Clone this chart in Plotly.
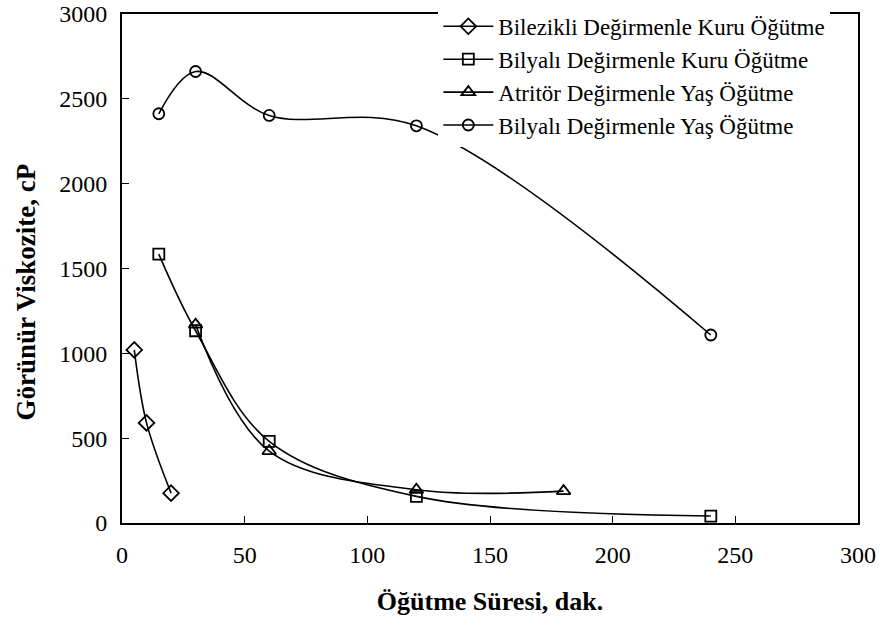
import plotly.graph_objects as go

# Öğütme süresi (dak.) ve görünür viskozite (cP) değerleri
x_bilezikli_kuru = [5, 10, 20]
y_bilezikli_kuru = [1020, 590, 176]

x_bilyali_kuru = [15, 30, 60, 120, 240]
y_bilyali_kuru = [1585, 1133, 481, 157, 41]

x_atritor_yas = [30, 60, 120, 180]
y_atritor_yas = [1169, 424, 196, 188]

x_bilyali_yas = [15, 30, 60, 120, 240]
y_bilyali_yas = [2412, 2661, 2402, 2341, 1108]

FONT = "Liberation Serif"

series = [
    ("Bilezikli Değirmenle Kuru Öğütme", x_bilezikli_kuru, y_bilezikli_kuru, "diamond-open", 12),
    ("Bilyalı Değirmenle Kuru Öğütme", x_bilyali_kuru, y_bilyali_kuru, "square-open", 11),
    ("Atritör Değirmenle Yaş Öğütme", x_atritor_yas, y_atritor_yas, "triangle-up-open", 12),
    ("Bilyalı Değirmenle Yaş Öğütme", x_bilyali_yas, y_bilyali_yas, "circle-open", 11),
]

fig = go.Figure()
for name, xs, ys, sym, size in series:
    fig.add_trace(go.Scatter(
        x=xs, y=ys, name=name, mode="lines+markers",
        line=dict(color="black", width=1.6, shape="spline", smoothing=1),
        marker=dict(symbol=sym, size=size, color="black", line=dict(width=1.8)),
    ))

fig.update_layout(
    width=880, height=628,
    margin=dict(l=122, r=22, t=14, b=105, autoexpand=False),
    paper_bgcolor="white",
    plot_bgcolor="white",
    font=dict(family=FONT, color="black", size=24),
    showlegend=True,
    legend=dict(
        x=0.9624, xanchor="right", y=1.018, yanchor="top",
        bgcolor="white", borderwidth=0,
        font=dict(family=FONT, size=23, color="black"),
        tracegroupgap=0, itemwidth=50,
    ),
    xaxis=dict(
        range=[0, 300], tickvals=[0, 50, 100, 150, 200, 250, 300],
        ticks="inside", ticklen=7, tickcolor="black", tickwidth=1,
        showline=True, linecolor="black", linewidth=2, mirror=True,
        showgrid=False, zeroline=False, ticklabelstandoff=9,
        ticklabeloverflow="allow",
        tickfont=dict(family=FONT, size=24),
        title=dict(text="<b>Öğütme Süresi, dak.</b>", font=dict(family=FONT, size=26), standoff=25),
    ),
    yaxis=dict(
        range=[0, 3000], tickvals=[0, 500, 1000, 1500, 2000, 2500, 3000],
        ticks="inside", ticklen=7, tickcolor="black", tickwidth=1,
        showline=True, linecolor="black", linewidth=2, mirror=True,
        showgrid=False, zeroline=False, ticklabelstandoff=8,
        ticklabeloverflow="allow",
        tickfont=dict(family=FONT, size=24),
    ),
    annotations=[dict(
        text="<b>Görünür Viskozite, cP</b>", textangle=-90,
        xref="paper", yref="paper", x=-0.13, y=0.4535,
        xanchor="center", yanchor="middle", showarrow=False,
        font=dict(family=FONT, size=27, color="black"),
    )],
)

# drop the browser's default 8px body margin so the figure fills the window
fig.write_html(
    "out.html",
    config={"displayModeBar": False},
    post_script="document.body.style.margin = '0';",
)
